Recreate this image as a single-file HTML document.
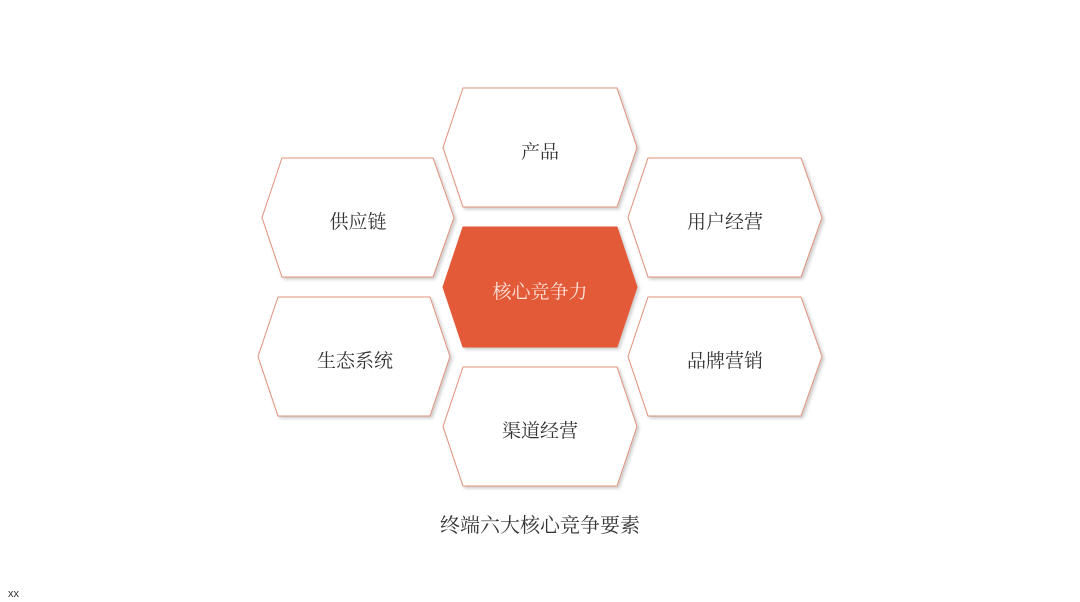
<!DOCTYPE html>
<html><head><meta charset="utf-8"><style>
body{margin:0;width:1080px;height:602px;background:#fff;overflow:hidden;position:relative;font-family:"Liberation Serif","Noto Serif CJK SC",serif;}
svg{position:absolute;left:0;top:0}
</style></head><body>
<svg width="1080" height="602" viewBox="0 0 1080 602">
<defs>
<filter id="s" x="-10%" y="-10%" width="125%" height="125%"><feDropShadow dx="2" dy="2" stdDeviation="1.5" flood-color="#000" flood-opacity="0.2"/></filter>
</defs>
<g filter="url(#s)" stroke="#e0907a" stroke-width="1" fill="#fff">
<polygon points="463,88 617,88 637,147.5 617,207 463,207 443,147.5"/>
<polygon points="282,158 433,158 454,217.5 433,277 282,277 262,217.5"/>
<polygon points="648,158 801,158 822,217.5 801,277 648,277 628,217.5"/>
<polygon points="278,297 430,297 450,356.5 430,416 278,416 258,356.5"/>
<polygon points="648,297 801,297 822,356.5 801,416 648,416 628,356.5"/>
<polygon points="463,367 617,367 637,426.5 617,486 463,486 443,426.5"/>
<polygon points="463,227 617,227 637,287 617,347 463,347 443,287" fill="#e35a39" stroke="#e35a39"/>
</g>
<g font-size="19" text-anchor="middle" fill="#333" font-family="Liberation Serif, Noto Serif CJK SC, serif">
<text x="540" y="158">产品</text>
<text x="358" y="228">供应链</text>
<text x="725" y="228">用户经营</text>
<text x="540" y="298" fill="#fbe3da">核心竞争力</text>
<text x="355" y="367">生态系统</text>
<text x="725" y="367">品牌营销</text>
<text x="540" y="437">渠道经营</text>
<text x="540" y="532" font-size="20">终端六大核心竞争要素</text>
</g>
<text x="8" y="597" font-size="11" fill="#333" font-family="Liberation Sans, sans-serif">xx</text>
</svg>
</body></html>
